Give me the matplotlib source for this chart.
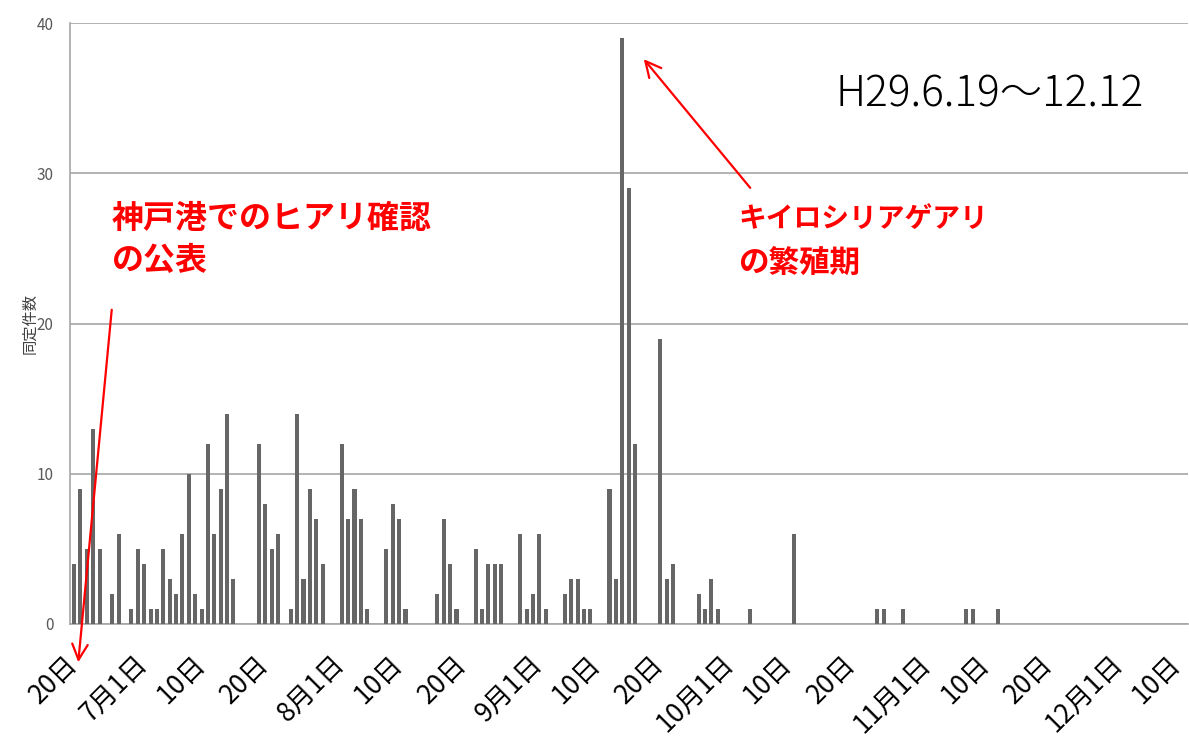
import pandas as pd
import matplotlib.pyplot as plt
from matplotlib.transforms import ScaledTranslation

plt.rcParams['font.family'] = ['Noto Sans CJK JP', 'DejaVu Sans']

# 日別の同定件数（件数のある日のみ, H29 = 2017年）
dates = ['06-19', '06-20', '06-21', '06-22', '06-23', '06-25', '06-26', '06-28',
         '06-29', '06-30', '07-01', '07-02', '07-03', '07-04', '07-05', '07-06',
         '07-07', '07-08', '07-09', '07-10', '07-11', '07-12', '07-13', '07-14',
         '07-18', '07-19', '07-20', '07-21', '07-23', '07-24', '07-25', '07-26',
         '07-27', '07-28', '07-31', '08-01', '08-02', '08-03', '08-04', '08-07',
         '08-08', '08-09', '08-10', '08-15', '08-16', '08-17', '08-18', '08-21',
         '08-22', '08-23', '08-24', '08-25', '08-28', '08-29', '08-30', '08-31',
         '09-01', '09-04', '09-05', '09-06', '09-07', '09-08', '09-11', '09-12',
         '09-13', '09-14', '09-15', '09-19', '09-20', '09-21', '09-25', '09-26',
         '09-27', '09-28', '10-03', '10-10', '10-23', '10-24', '10-27', '11-06',
         '11-07', '11-11']
counts = [4, 9, 5, 13, 5, 2, 6, 1,
          5, 4, 1, 1, 5, 3, 2, 6,
          10, 2, 1, 12, 6, 9, 14, 3,
          12, 8, 5, 6, 1, 14, 3, 9,
          7, 4, 12, 7, 9, 7, 1, 5,
          8, 7, 1, 2, 7, 4, 1, 5,
          1, 4, 4, 4, 6, 1, 2, 6,
          1, 2, 3, 3, 1, 1, 9, 3,
          39, 29, 12, 19, 3, 4, 2, 1,
          3, 1, 1, 6, 1, 1, 1, 1,
          1, 1]

period_start, period_end = '2017-06-19', '2017-12-12'

days = pd.date_range(period_start, period_end, freq='D')
series = pd.Series(0, index=days)
series[pd.to_datetime(['2017-' + d for d in dates])] = counts

# 目盛りは各月の1日・10日・20日
tick_pos, tick_lab = [], []
for i, d in enumerate(days):
    if d.day == 1:
        tick_pos.append(i)
        tick_lab.append(f'{d.month}月1日')
    elif d.day in (10, 20):
        tick_pos.append(i)
        tick_lab.append(f'{d.day}日')

W, H = 1189, 742
fig = plt.figure(figsize=(W / 100, H / 100), dpi=100)
ax = fig.add_axes([70 / W, 118 / H, 1118 / W, 601 / H])

x = range(len(series))
ax.bar(x, series.values, width=0.63, color='#666666', zorder=3)

ax.set_xlim(-0.63, 174.75)
ax.set_ylim(0, 40)
ax.set_yticks([0, 10, 20, 30, 40])
ax.grid(axis='y', color='#a6a6a6', lw=1.2, zorder=0)
for s in ['top', 'right']:
    ax.spines[s].set_visible(False)
for s in ['left', 'bottom']:
    ax.spines[s].set_color('#a6a6a6')
    ax.spines[s].set_linewidth(1.2)

ax.set_xticks(tick_pos)
ax.set_xticklabels(tick_lab, rotation=45, ha='right', va='center',
                   rotation_mode='anchor', fontsize=19)
ax.tick_params(axis='x', length=0, pad=26)
shift = ScaledTranslation(-5 / 72, 0, fig.dpi_scale_trans)
for lab in ax.get_xticklabels():
    lab.set_transform(lab.get_transform() + shift)
ax.tick_params(axis='y', length=0, pad=12, labelsize=11, labelcolor='#595959')
ax.set_ylabel('同定件数', fontsize=11, color='#404040')
ax.yaxis.set_label_coords(-0.028, 0.5)

# 期間表示
fig.text(835 / W, 1 - 95 / H, 'H29.6.19〜12.12', fontsize=30.5, fontweight='light',
         va='center', ha='left', color='black')

# 注記
fig.text(112 / W, 1 - 203 / H, '神戸港でのヒアリ確認\nの公表', fontsize=23,
         fontweight='bold', color='red', va='top', ha='left', linespacing=1.4)
fig.text(738 / W, 1 - 205 / H, 'キイロシリアゲアリ', fontsize=20,
         fontweight='bold', color='red', va='top', ha='left')
fig.text(738 / W, 1 - 248 / H, 'の繁殖期', fontsize=22,
         fontweight='bold', color='red', va='top', ha='left')

arrow = dict(arrowstyle='->', color='red', lw=1.6, mutation_scale=28)
ax.annotate('', xy=(78, H - 665), xycoords='figure pixels',
            xytext=(112, H - 307), textcoords='figure pixels',
            arrowprops=arrow, annotation_clip=False)
ax.annotate('', xy=(642, H - 57), xycoords='figure pixels',
            xytext=(752, H - 190), textcoords='figure pixels',
            arrowprops=arrow, annotation_clip=False)

fig.savefig('out.png', dpi=100)
